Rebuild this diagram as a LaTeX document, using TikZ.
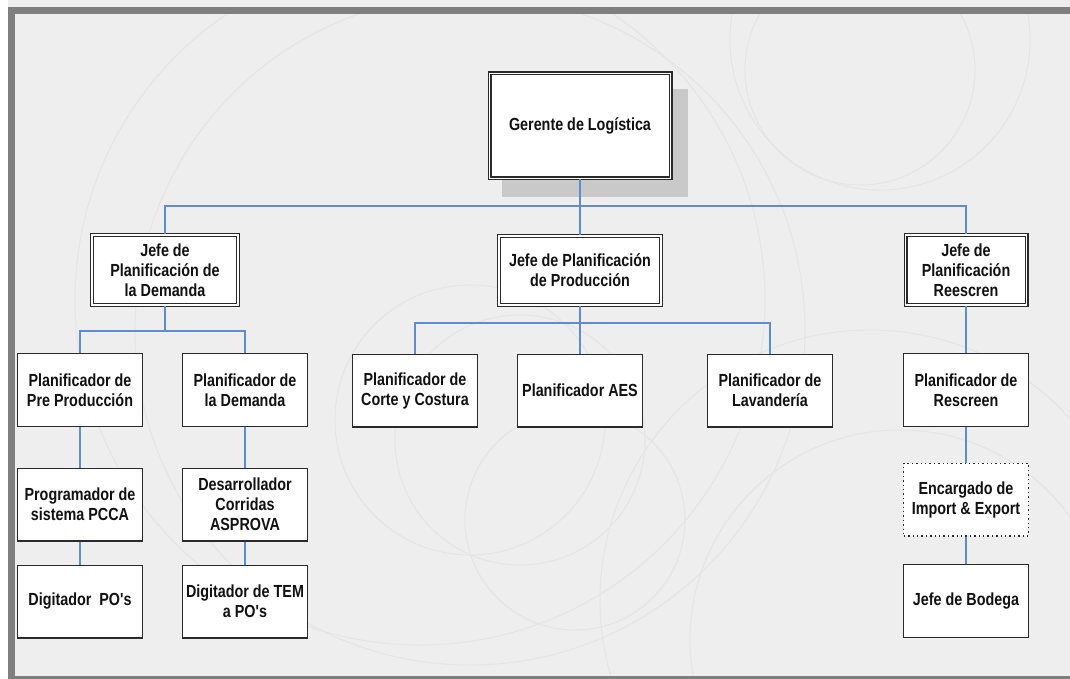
\documentclass[tikz,border=0pt]{standalone}
\usepackage{fontspec}
\newfontfamily\orgfont{Liberation Sans}[FakeStretch=0.82]
\definecolor{pagebg}{HTML}{EEEEEE}
\definecolor{framegray}{HTML}{7F7F7F}
\definecolor{swirl}{HTML}{E5E5E5}
\definecolor{linkblue}{HTML}{5F8CD0}
\definecolor{boxline}{HTML}{2A2A2A}
\definecolor{shadowgray}{HTML}{C9C9C9}
\definecolor{txt}{HTML}{111111}
\tikzset{
  orgtext/.style={font=\orgfont\bfseries\fontsize{17.5}{20}\selectfont, text=txt, align=center, inner sep=0pt},
  unitbox/.style={orgtext, rectangle, fill=white, draw=boxline, line width=1.4pt,
    minimum width=124.6pt, minimum height=72.6pt},
  headbox/.style={orgtext, rectangle, fill=white, draw=boxline, line width=1.1pt,
    double=white, double distance=1.8pt},
  dottedbox/.style={orgtext, rectangle, fill=white, draw=boxline, line width=1.4pt,
    dash pattern=on 1.4pt off 3pt, minimum width=124.6pt, minimum height=72.6pt},
  link/.style={draw=linkblue, line width=1.8pt},
  swirlline/.style={draw=swirl, line width=1pt}
}
\begin{document}
\begin{tikzpicture}[x=1pt, y=-1pt]
\useasboundingbox (0,0) rectangle (1070,679);
% page and frame
\fill[white] (0,0) rectangle (1070,679);
\fill[pagebg] (8,0) rectangle (1070,679);
\begin{scope}
  \clip (15,14) rectangle (1070,676);
  \draw[swirlline] (420,300) circle (345);
  \draw[swirlline] (470,330) circle (335);
  \draw[swirlline] (470,420) circle (135);
  \draw[swirlline] (520,440) circle (125);
  \draw[swirlline] (575,520) circle (110);
  \draw[swirlline] (860,70) circle (115);
  \draw[swirlline] (880,40) circle (150);
  \draw[swirlline] (870,600) circle (270);
  \draw[swirlline] (900,640) circle (210);
\end{scope}
\fill[framegray] (8,7) rectangle (1070,14);
\fill[framegray] (8,7) rectangle (15,679);
\fill[framegray] (8,676) rectangle (1070,679);

% top of the chart
\fill[shadowgray] (502,89) rectangle (688,197);
\node[headbox, minimum width=181pt, minimum height=105pt] (ger) at (580,126) {Gerente de Logística};

% second level
\node[headbox, minimum width=146pt, minimum height=70pt] (jd) at (165,270) {Jefe de\\Planificación de\\la Demanda};
\node[headbox, minimum width=162pt, minimum height=69pt] (jp) at (580,270.5) {Jefe de Planificación\\de Producción};
\node[headbox, minimum width=121pt, minimum height=70pt] (jr) at (966,270) {Jefe de\\Planificación\\Reescren};

% third level
\node[unitbox] (pp) at (80,390) {Planificador de\\Pre Producción};
\node[unitbox] (pd) at (245,390) {Planificador de\\la Demanda};
\node[unitbox] (pc) at (415,390.5) {Planificador de\\Corte y Costura};
\node[unitbox] (pa) at (580,390.5) {Planificador AES};
\node[unitbox] (pl) at (770,390.5) {Planificador de\\Lavandería};
\node[unitbox] (pr) at (966,390) {Planificador de\\Rescreen};

% fourth level
\node[unitbox] (prog) at (80,504.5) {Programador de\\sistema PCCA};
\node[unitbox] (desa) at (245,504.5) {Desarrollador\\Corridas\\ASPROVA};
\node[dottedbox] (enc) at (966,499.5) {Encargado de\\Import \& Export};

% fifth level
\node[unitbox] (dig1) at (80,601.5) {Digitador~ PO's};
\node[unitbox] (dig2) at (245,601.5) {Digitador de TEM\\a PO's};
\node[unitbox] (bod) at (966,601) {Jefe de Bodega};

% connectors
\coordinate (bus1) at (580,206);
\coordinate (bus2) at (165,331);
\coordinate (bus3) at (580,323);
\draw[link] (ger.south) -- (bus1);
\draw[link] (jd.north) |- (bus1) -| (jr.north);
\draw[link] (jp.north) -- (jp.north |- bus1);
\draw[link] (jd.south) -- (jd.south |- bus2);
\draw[link] (pp.north) |- (bus2) -| (pd.north);
\draw[link] (jp.south) -- (pa.north);
\draw[link] (pc.north) |- (bus3) -| (pl.north);
\draw[link] (jr.south) -- (pr.north);
\draw[link] (pp.south) -- (prog.north);
\draw[link] (prog.south) -- (dig1.north);
\draw[link] (pd.south) -- (desa.north);
\draw[link] (desa.south) -- (dig2.north);
\draw[link] (pr.south) -- (enc.north);
\draw[link] (enc.south) -- (bod.north);
\end{tikzpicture}
\end{document}
